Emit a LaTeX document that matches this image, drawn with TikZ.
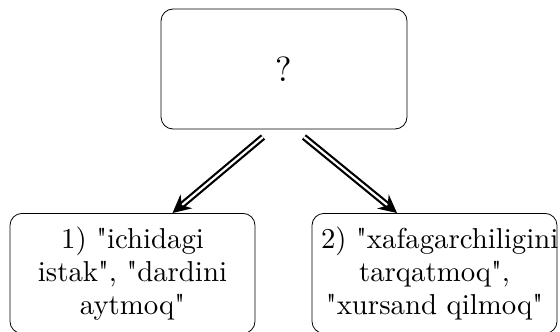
\documentclass[tikz,border=0pt]{standalone}
\usepackage{fontspec}
\setmainfont{lmroman10-regular.otf}[Ligatures=TeXOff]
\usetikzlibrary{arrows.meta,calc}
\hyphenpenalty=10000
\exhyphenpenalty=10000
\begin{document}
\begin{tikzpicture}[x=0.5pt,y=-0.5pt,
  box/.style={draw, rounded corners=6pt, minimum width=122.5pt, minimum height=60pt,
    inner xsep=4.5pt, inner ysep=4pt, font=\fontsize{14.4}{16.5}\selectfont},
  txtbox/.style={box, text width=113.5pt, align=center},
  dblarrow/.style={double, line width=1.1pt, double distance=1.1pt,
    -{Stealth[length=9pt,width=9pt]}}]
\useasboundingbox (0,0) rectangle (560,331);
\node[box, minimum width=123pt, font=\fontsize{17.5}{20}\selectfont] (top) at (284,69) {?};
\node[txtbox, anchor=north] (bl) at (132.5,213) {1) "ichidagi\\istak", "dardini\\aytmoq"};
\node[txtbox, anchor=north] (br) at (434.5,213) {2)~"xafagarchiligini\\tarqatmoq",\\"xursand qilmoq"};
\coordinate (s1) at (263,137);
\coordinate (s2) at (304,137);
\draw[dblarrow] (s1) -- ($(bl.north)+(40,0)$);
\draw[dblarrow] (s2) -- ($(br.north)+(-37.5,0)$);
\end{tikzpicture}
\end{document}
